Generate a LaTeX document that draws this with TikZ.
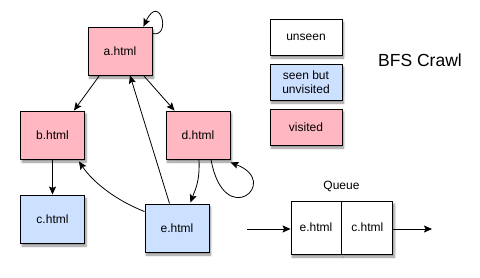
\documentclass[tikz,border=0pt]{standalone}
\usepackage{fontspec}
\setmainfont{Liberation Sans}
\usetikzlibrary{arrows.meta,positioning,shadows.blur}

\definecolor{visitedpink}{RGB}{255,183,193}
\definecolor{seenblue}{RGB}{204,224,255}

\begin{document}
\begin{tikzpicture}[
    x=1pt, y=-1pt,
    font=\fontsize{12}{14}\selectfont,
    page/.style={draw, line width=0.9pt, minimum width=64pt, minimum height=48pt, align=center,
        blur shadow={shadow xshift=1.5pt, shadow yshift=-3pt, shadow blur steps=6, shadow opacity=45}},
    visited/.style={page, fill=visitedpink},
    seen/.style={page, fill=seenblue},
    legend/.style={page, minimum width=72pt, minimum height=36pt, inner sep=1pt},
    cell/.style={page, fill=white, minimum height=53pt, inner sep=0pt},
    arrow/.style={-{Stealth[length=8pt,width=7pt,inset=1.5pt]}, line width=0.8pt},
]
    \useasboundingbox (0,0) rectangle (480,278);

    % pages of the crawl
    \node[visited] (a) at (120,51) {a.html};
    \node[visited] (b) at (52.5,135) {b.html};
    \node[visited] (d) at (198,135) {d.html};
    \node[seen] (c) at (52.5,219) {c.html};
    \node[seen] (e) at (177,228) {e.html};

    \draw[arrow] ([yshift=-7pt]a.north east) .. controls (172,38) and (160,-8) .. ([xshift=-9pt]a.north east);
    \draw[arrow] ([xshift=12pt]a.south west) -- ([xshift=-11pt]b.north east);
    \draw[arrow] ([xshift=-9pt]a.south east) -- ([xshift=9pt]d.north west);
    \draw[arrow] (b.south) -- (c.north);
    \draw[arrow] ([xshift=25pt]e.north west) -- ([xshift=10pt]a.south);
    \draw[arrow] ([yshift=-8pt]e.north west) .. controls (120,202) and (95,185) .. ([xshift=-6pt,yshift=-2pt]b.south east);
    \draw[arrow] ([xshift=1pt]d.south) .. controls (200,182) and (195,190) .. ([xshift=-19pt,yshift=1pt]e.north east);
    \draw[arrow] ([xshift=13pt]d.south) .. controls (224,232) and (282,182) .. ([yshift=-3pt]d.south east);

    % legend
    \node[legend, fill=white] (unseen) at (306,37) {unseen};
    \node[legend, fill=seenblue] (seenkey) at (306,82) {seen but\\unvisited};
    \node[legend, fill=visitedpink] (visitedkey) at (306,127) {visited};
    \node[font=\fontsize{17.5}{20}\selectfont] (title) at (420,60) {BFS Crawl};

    % queue
    \node[cell, minimum width=50pt] (qe) at (316,227.5) {e.html};
    \node[cell, minimum width=51pt, right=0pt of qe] (qc) {c.html};
    \node[above=5pt of qe.north east] (queue) {Queue};
    \coordinate (qin) at (247,229);
    \coordinate (qout) at (432,229);
    \draw[arrow] (qin) -- (qin -| qe.west);
    \draw[arrow] (qin -| qc.east) -- (qout);
\end{tikzpicture}
\end{document}
